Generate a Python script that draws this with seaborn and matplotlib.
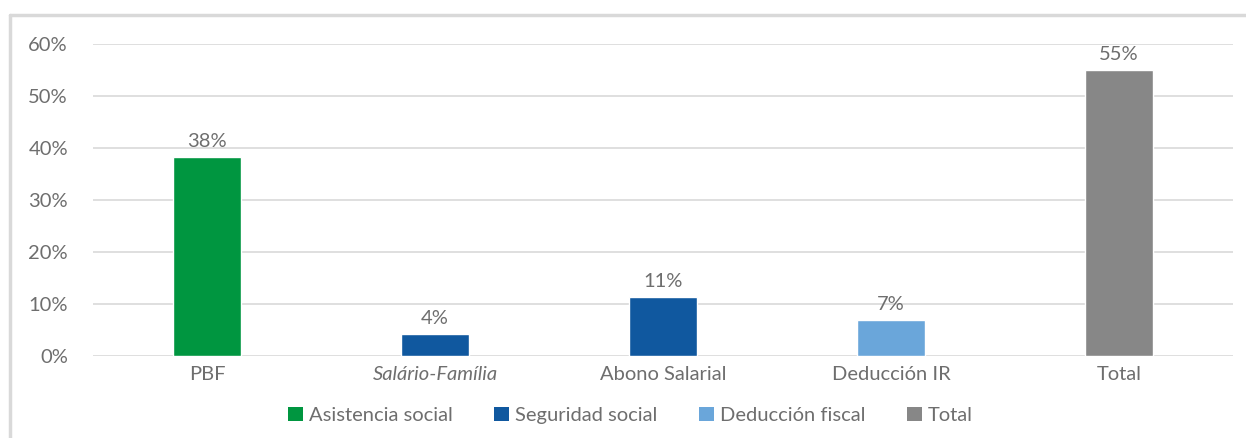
import matplotlib
matplotlib.use("Agg")
import matplotlib.pyplot as plt
import seaborn as sns
import pandas as pd
from matplotlib.lines import Line2D
from matplotlib.patches import Patch
from matplotlib.ticker import PercentFormatter

# datos
categorias = ["PBF", "Salário-Família", "Abono Salarial", "Deducción IR", "Total"]
valores = [0.383, 0.042, 0.113, 0.069, 0.55]
grupos = ["Asistencia social", "Seguridad social", "Seguridad social", "Deducción fiscal", "Total"]
colores = {"Asistencia social": "#009640", "Seguridad social": "#10589F",
           "Deducción fiscal": "#6AA6DA", "Total": "#878787"}

df = pd.DataFrame({"categoria": categorias, "valor": valores, "grupo": grupos})

sns.set_style("white")
plt.rcParams["font.family"] = ["Lato", "DejaVu Sans"]
gris = "#6E6E6E"
fs = 14.5

fig = plt.figure(figsize=(12.46, 4.38), dpi=100)
ax = fig.add_axes([0.0746, 0.187, 0.9150, 0.7125])

sns.barplot(data=df, x="categoria", y="valor", hue="grupo", palette=colores,
            dodge=False, width=0.3, legend=False, ax=ax, saturation=1)

for c in ax.containers:
    ax.bar_label(c, fmt=lambda v: f"{v*100:.0f}%", padding=5, color=gris, fontsize=fs)

ax.set_ylim(0, 0.6)
ax.set_xlim(-0.5, 4.5)
ax.set_yticks([0, 0.1, 0.2, 0.3, 0.4, 0.5, 0.6])
ax.yaxis.set_major_formatter(PercentFormatter(1.0, decimals=0))
ax.grid(axis="y", color="#D9D9D9", linewidth=1.2)
ax.set_axisbelow(True)
for s in ax.spines.values():
    s.set_visible(False)
ax.set_xlabel("")
ax.set_ylabel("")
ax.tick_params(axis="both", length=0, labelsize=fs, labelcolor=gris)
ax.tick_params(axis="y", pad=18)
ax.tick_params(axis="x", pad=7)
for lbl in ax.get_xticklabels():
    if lbl.get_text() == "Salário-Família":
        lbl.set_style("italic")

handles = [Patch(facecolor=colores[g], edgecolor="none") for g in colores]
fig.legend(handles, list(colores), loc="center", bbox_to_anchor=(0.506, 0.052), ncol=4,
           frameon=False, fontsize=fs, labelcolor=gris, handlelength=0.75, handleheight=0.75,
           handletextpad=0.3, columnspacing=2.05)

# marco
fig.add_artist(Line2D([10/1246, 1], [1-15/438, 1-15/438], color="#D9D9D9", lw=2.5,
                      transform=fig.transFigure))
fig.add_artist(Line2D([10/1246, 10/1246], [0, 1-15/438], color="#D9D9D9", lw=2.5,
                      transform=fig.transFigure))

fig.savefig("out.png", dpi=100)
